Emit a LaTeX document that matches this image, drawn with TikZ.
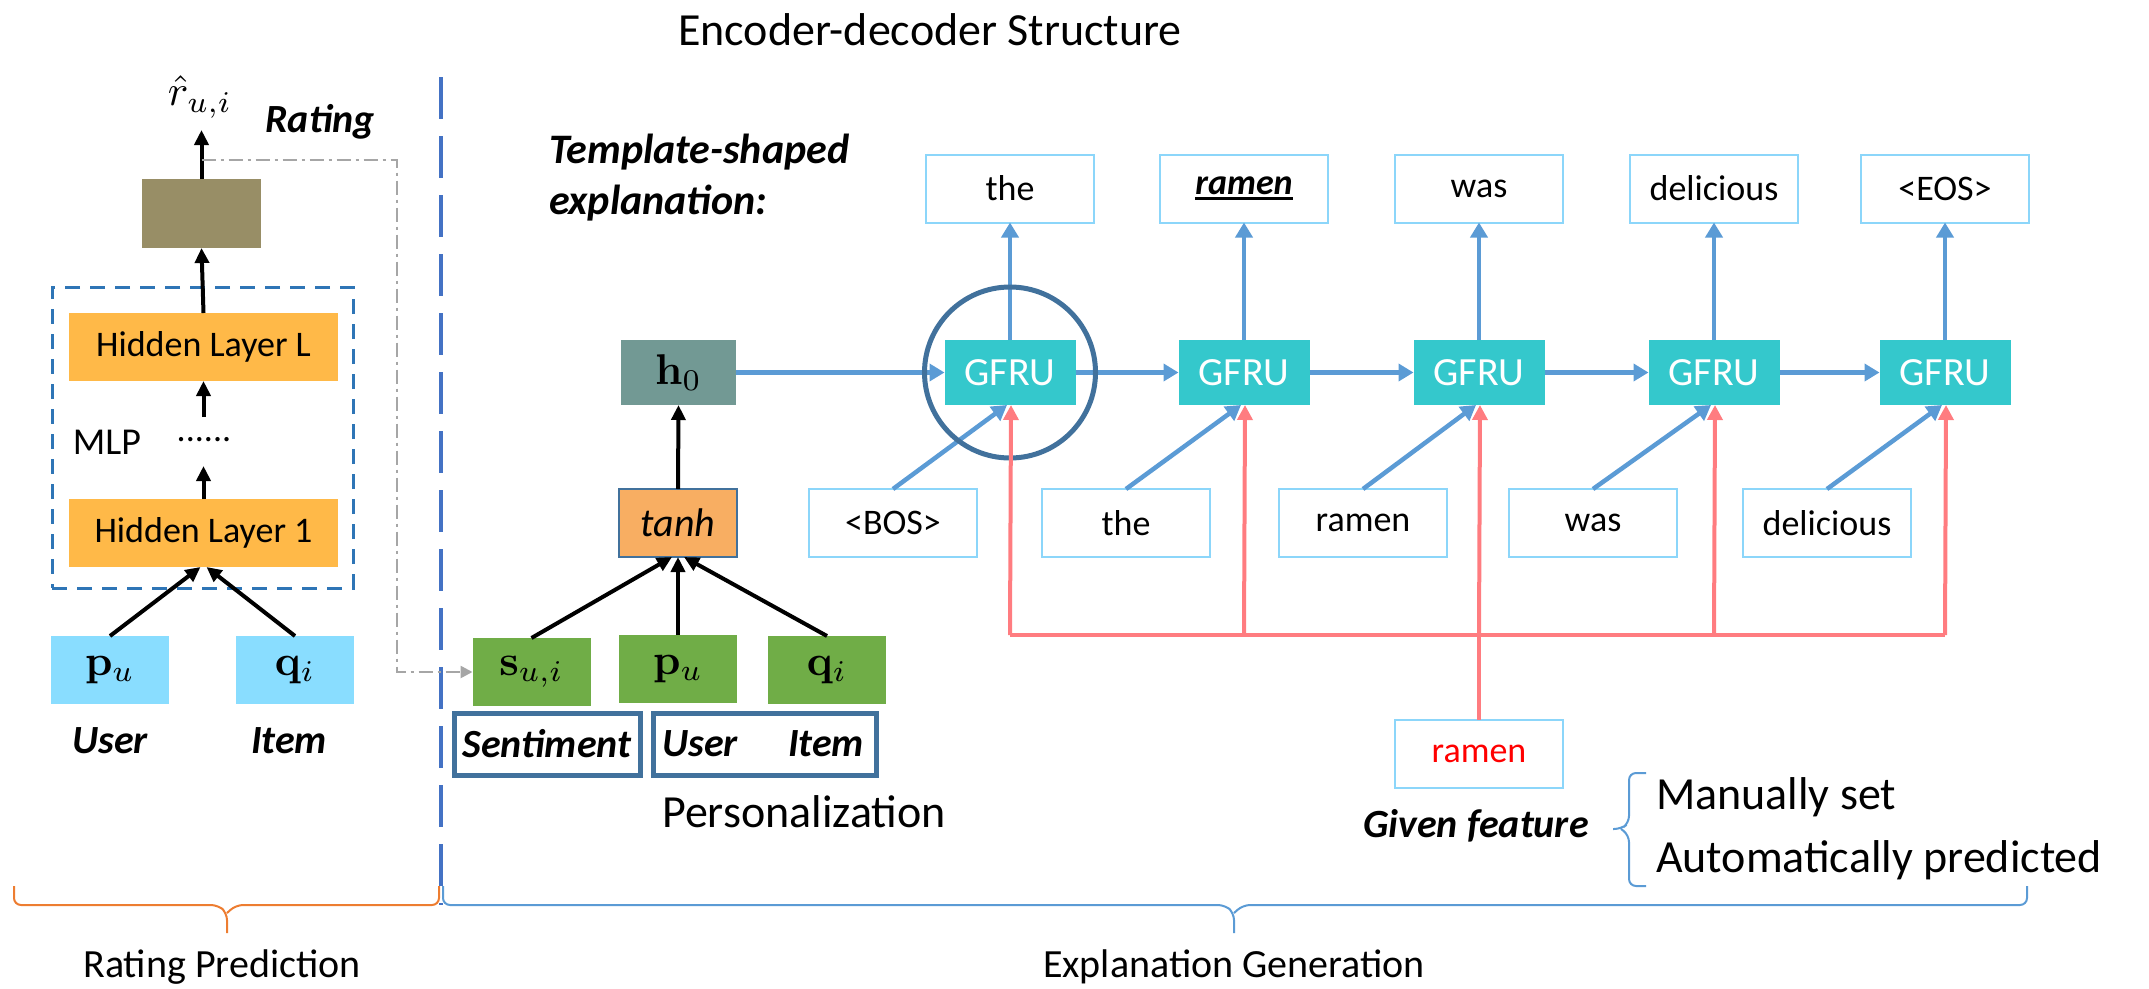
\documentclass[tikz,border=0pt]{standalone}
\usepackage{graphicx}
\usepackage[no-math]{fontspec}
\setmainfont{Carlito}
\usetikzlibrary{arrows.meta,calc}

\definecolor{olive}{RGB}{152,142,102}
\definecolor{hlay}{RGB}{255,185,72}
\definecolor{skyin}{RGB}{137,221,255}
\definecolor{hzero}{RGB}{114,153,148}
\definecolor{tanhc}{RGB}{248,174,98}
\definecolor{greenin}{RGB}{112,173,71}
\definecolor{gfruc}{RGB}{52,200,204}
\definecolor{wordbd}{RGB}{140,214,250}
\definecolor{flow}{RGB}{91,155,213}
\definecolor{featred}{RGB}{255,124,128}
\definecolor{navy}{RGB}{65,113,156}
\definecolor{divblue}{RGB}{68,114,196}
\definecolor{mlpblue}{RGB}{46,117,182}
\definecolor{braceor}{RGB}{237,125,49}
\definecolor{dashgray}{RGB}{166,166,166}

% underlined word with a heavy rule
\newcommand\ulword[1]{\setbox0\hbox{#1}\rlap{\rule[-6pt]{\wd0}{3pt}}\box0}
% math symbol set large (cm fonts scaled up from 10pt)
\newcommand\bigmath[1]{\scalebox{4.3}{$#1$}}

\tikzset{
  every node/.style={inner sep=0pt, outer sep=0pt},
  lbl/.style={font=\fontsize{36}{43}\selectfont},
  big/.style={font=\fontsize{46}{55}\selectfont},
  bottomlbl/.style={font=\fontsize{40}{48}\selectfont},
  emph/.style={font=\fontsize{40}{48}\selectfont\bfseries\itshape},
  panel/.style n args={3}{fill=#1, minimum width=#2, minimum height=#3},
  hidden/.style={panel={hlay}{269pt}{68pt}, lbl},
  invec/.style={panel={skyin}{118pt}{68pt}},
  greenvec/.style={panel={greenin}{118pt}{68pt}},
  gfru/.style={panel={gfruc}{131pt}{65pt}, font=\fontsize{40}{48}\selectfont, text=white},
  word/.style={draw=wordbd, line width=2pt, fill=white, minimum width=168pt, minimum height=68pt, lbl},
  tagbox/.style={draw=navy, line width=5pt, minimum height=62pt},
  blkarrow/.style={draw=black, line width=4pt, -{Triangle[length=15pt,width=14pt]}},
  flowarrow/.style={draw=flow, line width=4.5pt, -{Triangle[length=15pt,width=17pt]}},
  featline/.style={draw=featred, line width=4pt},
  featarrow/.style={featline, -{Triangle[length=15pt,width=15pt]}},
  curly/.style={line width=2pt, rounded corners=7pt},
}

\begin{document}
\begin{tikzpicture}[x=1pt,y=-1pt]
\useasboundingbox (0,0) rectangle (2149,988);

% ---------- title ----------
\node[big] (title) at (930,30) {Encoder-decoder Structure};

% ---------- rating prediction (MLP) ----------
\node[draw=mlpblue, line width=3pt, dash pattern=on 15pt off 10pt,
      minimum width=301pt, minimum height=301pt] (mlp) at (202.5,437.5) {};
\node[panel={olive}{119pt}{69pt}] (score) at (201.5,213.5) {};
\node (rhat) at (200,97) {\bigmath{\hat{r}_{u,i}}};
\coordinate (rhatB) at (201.5,130);
\node[emph] (rating) at (320,122) {Rating};
\node[hidden] (hlL) at (203.5,347) {Hidden Layer L};
\node[hidden] (hl1) at (203.5,533) {Hidden Layer 1};
\node[font=\fontsize{38}{46}\selectfont] (mlptxt) at (107,442) {MLP};
\node[lbl] (dots) at (204,440) {......};
\coordinate (gapB) at (203.5,466);
\coordinate (gapT) at (203.5,417);
\node[invec] (pu1) at (110,670) {\bigmath{\mathbf{p}_u}};
\node[invec] (qi1) at (295,670) {\bigmath{\mathbf{q}_i}};
\node[emph] (user1) at (110,741) {User};
\node[emph] (item1) at (289,741) {Item};

\draw[blkarrow] (score.north) -- (rhatB);
\draw[blkarrow] (hlL.north) -- (score.south);
\draw[blkarrow] (gapT) -- (hlL.south);
\draw[blkarrow] (hl1.north) -- (gapB);
\draw[blkarrow] (pu1.north) -- ($(hl1.south)+(-3,0)$);
\draw[blkarrow] (qi1.north) -- ($(hl1.south)+(3,0)$);

% ---------- divider ----------
\draw[divblue, line width=3.5pt, dash pattern=on 42pt off 17pt] (441,77) -- (441,905);

% ---------- encoder ----------
\node[panel={hzero}{115pt}{65pt}] (h0) at (678.5,372.5) {\bigmath{\mathbf{h}_0}};
\node[panel={tanhc}{118pt}{68pt}, draw=navy, line width=1.5pt,
      font=\fontsize{40}{48}\selectfont\itshape] (tanh) at (678,523) {tanh};
\node[greenvec] (sui) at (531.5,672) {\bigmath{\mathbf{s}_{u,i}}};
\node[greenvec] (pu2) at (678,669) {\bigmath{\mathbf{p}_u}};
\node[greenvec] (qi2) at (827,670) {\bigmath{\mathbf{q}_i}};
\node[tagbox, minimum width=186pt] (sentbox) at (547,744) {};
\node[tagbox, minimum width=223pt] (uibox) at (764.5,744) {};
\node[emph] (senttxt) at (547,744) {Sentiment};
\node[emph] (user2) at (700,744) {User};
\node[emph] (item2) at (826,744) {Item};
\node[big] (perso) at (804,812) {Personalization};

\draw[blkarrow] (tanh.north) -- (h0.south);
\draw[blkarrow] (sui.north) -- ($(tanh.south)+(-6,0)$);
\draw[blkarrow] (pu2.north) -- (tanh.south);
\draw[blkarrow] (qi2.north) -- ($(tanh.south)+(6,0)$);

% predicted rating fed back as sentiment
\coordinate (tap) at (201.5,160);
\draw[dashgray, line width=2.5pt, dash pattern=on 14pt off 5pt on 3pt off 5pt,
      -{Triangle[length=12pt,width=12pt]}] (tap) -- (397,160) -- (397,672) -- (sui.west);

% ---------- decoder ----------
\node[anchor=west, align=left, font=\fontsize{42}{51}\selectfont\bfseries\itshape]
  (tmpl) at (549,178) {Template-shaped\\explanation:};

\foreach \i/\gx/\lx/\upw/\low in {
    1/1010/893/the/{<BOS>},
    2/1244/1126/{\ulword{\textbf{\textit{ramen}}}}/the,
    3/1479/1363/was/ramen,
    4/1714/1593/delicious/was,
    5/1945/1827/{<EOS>}/delicious}{
  \node[gfru] (g\i) at (\gx,372.5) {GFRU};
  \node[word] (up\i) at (\gx,188.5) {\upw};
  \node[word] (lo\i) at (\lx,523) {\low};
  \draw[flowarrow] (g\i.north) -- (up\i.south);
  \draw[flowarrow] (lo\i.north) -- ($(g\i.south)+(-3,0)$);
}

\draw[flowarrow] (h0.east) -- (g1.west);
\foreach \a/\b in {1/2,2/3,3/4,4/5}
  \draw[flowarrow] (g\a.east) -- (g\b.west);

\node[draw=navy, line width=5pt, circle, minimum size=171pt] (focus) at (g1) {};

% feature broadcast
\coordinate (bus) at (1010,635);
\node[word, text=red] (feat) at (1479,754) {ramen};
\draw[featline] (g1.south |- bus) -- (g5.south |- bus);
\draw[featline] (feat.north) -- (feat.north |- bus);
\foreach \i in {1,...,5}
  \draw[featarrow] (g\i.south |- bus) -- ($(g\i.south)+(1,0)$);

\node[emph] (given) at (1476,826) {Given feature};
\draw[flow, curly] (1646,773) -- (1629,773) -- (1629,823) -- (1621,829) -- (1613,829)
                   (1621,829) -- (1629,835) -- (1629,886) -- (1646,886);
\node[big, anchor=west] (manual) at (1656,797) {Manually set};
\node[big, anchor=west] (auto) at (1656,860) {Automatically predicted};

% ---------- section braces ----------
\draw[braceor, curly] (14,886) |- (218,905) -- (227,913) -- (227,933)
                      (227,913) -- (236,905) -| (439,886);
\draw[flow, curly] (443,886) |- (1225,905) -- (1234,913) -- (1234,933)
                   (1234,913) -- (1243,905) -| (2027,886);
\node[bottomlbl] (rp) at (222,967) {Rating Prediction};
\node[bottomlbl] (eg) at (1234,967) {Explanation Generation};
\end{tikzpicture}
\end{document}
